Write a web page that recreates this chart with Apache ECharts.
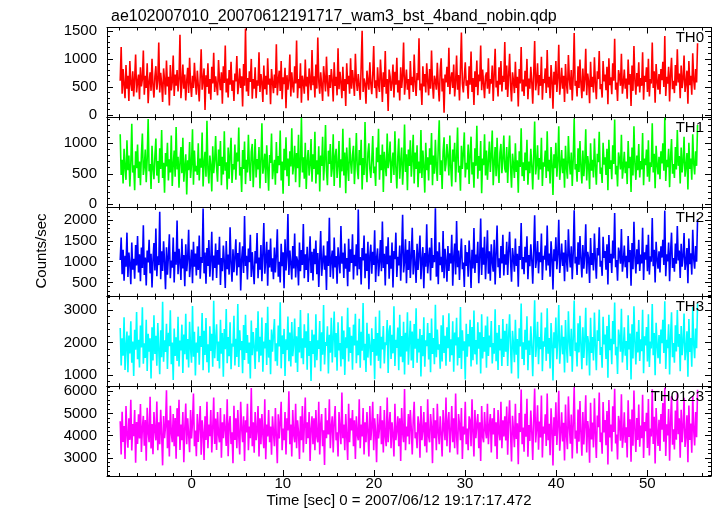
<!DOCTYPE html>
<html><head><meta charset="utf-8">
<script src="https://cdn.jsdelivr.net/npm/echarts@6/dist/echarts.min.js"></script>
<style>html,body{margin:0;padding:0;background:#fff}#c{width:717px;height:516px}</style>
</head><body><div id="c"></div>
<script>
const chartTitle = "ae102007010_20070612191717_wam3_bst_4band_nobin.qdp";
const xTitle = "Time [sec] 0 = 2007/06/12 19:17:17.472";
const yTitle = "Counts/sec";
const bandNames = ["TH0", "TH1", "TH2", "TH3", "TH0123"];
const t0 = -7.85, dt = 0.1058;
const xMin = -9.3, xMax = 57;

const TH0 = [
610,1210,380,820,540,300,890,470,700,250,960,560,430,780,330,650,1080,400,590,720,
280,850,510,640,1150,360,700,480,920,210,580,760,430,1000,530,310,690,870,450,610,
1290,400,750,560,230,830,620,360,970,510,680,170,890,440,590,1060,340,720,520,800,
420,640,1430,300,560,900,470,720,260,610,840,390,1020,550,320,700,480,930,600,360,
790,530,240,680,1170,450,620,830,90,710,500,920,380,640,270,860,560,1110,410,690,
520,350,980,610,440,760,200,870,570,1240,400,650,310,800,540,950,430,620,250,740,
600,1050,370,560,830,480,690,150,910,520,1540,420,660,340,780,590,1000,290,640,470,
850,300,620,520,1120,410,730,580,230,880,460,700,360,1010,540,650,190,820,590,390,
720,480,1260,350,610,790,430,960,280,670,550,840,120,710,450,620,1080,330,760,520,
400,870,560,1330,300,640,480,920,220,700,590,380,990,510,680,260,830,610,440,1160,
530,690,310,900,470,1380,600,380,760,540,250,870,650,420,1040,560,330,710,480,820,
610,240,940,520,680,350,1190,460,770,580,300,860,430,640,160,920,550,700,380,1010,
470,800,590,340,1090,620,430,730,520,270,880,1500,410,650,560,200,790,600,450,940,
560,370,710,1230,480,620,300,850,540,410,990,660,230,760,500,1140,380,640,70,810,
690,430,580,900,310,770,540,1020,400,620,260,850,480,700,1290,360,590,810,450,640,
280,960,530,680,410,1080,580,340,750,620,1370,440,560,180,870,510,730,400,920,600,
350,820,470,1150,560,290,700,610,450,930,530,240,790,1010,420,650,40,720,580,860,
500,1200,370,640,760,480,900,330,590,1060,450,710,260,830,1470,560,400,680,940,520,
620,290,870,540,1130,410,660,180,780,500,970,350,720,600,1240,440,810,560,300,690,
760,470,1010,380,640,560,880,250,720,1180,490,610,330,850,540,960,420,700,590,1300,
450,880,320,700,1090,530,240,760,610,390,950,480,680,150,820,560,1210,420,630,340,
790,510,1000,280,650,470,860,590,200,730,1320,440,600,920,350,710,520,1040,270,640,
570,830,390,1160,490,680,300,890,620,110,770,540,960,410,660,1250,360,580,840,470,
700,230,910,550,380,1070,640,450,800,260,690,1460,520,610,330,870,480,990,560,300,
830,420,640,1180,350,740,590,210,950,500,680,400,1030,570,280,780,640,1140,460,550,
310,960,600,720,440,860,190,1010,530,670,370,920,610,1360,450,580,250,800,690,520,
1090,380,560,810,470,650,290,990,540,730,160,880,430,1230,620,360,750,510,940,400,
660,520,1120,270,700,590,850,410,1000,330,640,560,1290,480,780,220,910,600,450,730,
370,820,620,950,500,1410,340,680,560,860,240,730,1020,460,610,390,890,520,1170,580,
740,300,880,480,640,1060,410,570,790,200,960,530,700,360,1100,620,450,820,580,1280];

const TH1 = [
1150,480,730,340,910,600,400,1050,560,800,290,670,1320,520,640,230,870,590,980,430,
700,310,820,1160,480,620,900,360,750,1400,540,660,250,960,590,410,790,1080,470,710,
350,920,580,1220,430,680,190,840,620,1010,390,740,520,1130,300,650,880,450,1270,570,
780,270,690,940,510,1090,370,610,820,160,720,560,1020,430,660,1230,320,880,540,630,
480,1000,390,750,600,1180,290,680,860,450,1370,580,340,800,640,210,950,510,710,1120,
600,370,900,630,1040,310,780,490,1200,550,690,240,930,420,820,1090,350,660,570,980,
400,850,700,1260,470,610,200,890,580,1030,330,730,520,1140,630,380,860,990,280,670,
1070,440,740,570,940,260,710,1330,500,640,830,350,970,600,220,810,680,1160,410,600,
730,320,1020,510,790,640,1210,390,700,170,910,560,1100,460,750,300,870,620,1250,490,
640,960,360,840,590,1140,280,670,1420,520,770,420,1010,250,710,890,470,650,1070,370,
820,580,1190,340,720,490,950,210,800,630,1110,390,690,1300,550,310,880,660,990,450,
590,1150,300,780,910,430,650,1040,270,740,540,1240,470,850,180,930,610,380,1090,700,
500,810,960,330,680,1170,570,410,890,640,1060,240,760,480,1350,620,360,840,1000,580,
430,720,1120,510,620,300,930,690,1240,400,810,560,980,200,860,640,460,1160,590,740,
1030,350,670,850,480,1200,600,260,780,1080,420,710,930,320,650,1310,530,820,230,900,
630,1050,450,740,1140,340,850,580,970,280,700,510,1220,430,880,620,190,1010,560,770,
390,920,650,1170,310,800,500,1060,610,380,950,1380,480,720,250,860,1100,540,660,990,
780,470,1130,600,290,900,700,1010,360,760,1260,520,630,220,960,580,840,1180,440,680,
570,980,330,820,1110,490,690,270,920,630,1290,420,790,550,1040,180,750,640,1150,470,
880,400,710,1030,530,810,1210,310,670,940,460,1090,600,350,850,990,510,740,1130,580,
520,940,350,780,1130,600,270,830,650,430,1000,530,720,190,870,610,1250,460,690,380,
850,560,1060,320,700,510,910,640,240,790,1360,490,650,970,400,760,570,1090,300,690,
620,880,430,1200,540,730,340,940,670,150,820,590,1010,450,710,1280,400,630,890,510,
750,270,960,600,420,1120,690,490,850,300,740,1410,570,660,370,920,530,1040,610,340,
880,460,690,1230,390,790,640,250,1000,550,730,440,1080,620,320,830,690,1190,500,600,
350,1010,650,770,480,910,230,1060,580,720,410,970,660,1390,490,630,290,850,740,570,
1140,420,610,860,510,700,330,1040,590,780,200,930,470,1280,670,400,800,560,990,440,
710,570,1170,310,750,640,900,450,1050,370,690,610,1330,520,830,260,960,650,490,780,
410,870,670,1000,550,1420,380,730,610,910,280,780,1070,500,660,430,940,570,1220,630,
790,340,930,520,690,1110,450,620,840,240,1010,580,750,400,1150,670,490,870,630,1300];

const TH2 = [
1040,1580,700,1290,540,1140,880,1700,630,1220,950,460,1460,810,1070,590,1400,910,1620,740,
1180,530,1340,850,1880,680,1100,430,1270,980,1530,720,1190,380,1050,1450,790,1800,650,1130,
920,2200,580,1250,780,1490,990,340,1350,690,1130,1660,600,1030,860,1580,500,1240,930,1990,
700,1310,1010,560,1550,840,1160,410,1420,770,1080,1770,630,960,1290,480,1480,880,1200,670,
1370,800,1630,590,1110,970,2280,720,1220,470,1330,900,1520,640,1040,1720,550,1150,850,1440,
610,1280,930,1600,440,1090,770,1390,1010,370,1500,820,1170,690,1830,950,520,1300,750,1120,
1540,670,1210,870,1470,310,1060,1370,730,2100,900,1140,570,1320,990,1650,630,1230,830,460,
1260,960,1690,600,1100,810,1400,530,1190,1930,710,1050,1480,420,1290,860,1560,760,1080,580,
1340,740,1160,1780,640,1000,500,1430,890,1230,360,1540,790,1120,2150,680,1270,970,570,1380,
840,1680,620,1130,1020,430,1460,770,1280,920,1910,600,1180,800,1360,510,1060,1610,730,1240,
550,1310,940,1510,700,1210,390,1100,1740,660,980,1390,810,1150,320,1490,900,2060,630,1040,
1270,590,1580,860,1140,470,1350,1010,720,1860,950,1220,610,1440,830,1090,410,1550,760,1300,
970,1660,570,1170,890,1420,670,2260,820,1110,450,1330,1030,1630,600,1200,780,1480,340,1140,
1410,710,1240,920,1760,510,1080,1320,650,980,1520,770,1970,850,1190,430,1370,940,1590,590,
1150,830,1460,380,1260,1060,1700,630,1120,910,1390,540,1230,2130,740,1010,1540,480,1290,800,
1500,610,1130,1820,690,1280,950,490,1430,800,1180,1630,580,1040,1350,360,1210,880,1900,720,
1080,1340,550,1570,850,1160,990,2290,640,1250,460,1470,920,1120,750,1740,600,1310,1020,520,
1380,780,1200,960,1650,420,1100,1440,690,1980,870,1270,560,1150,1560,820,980,390,1400,900,
1230,640,1510,1040,370,1290,840,1810,730,1170,970,1480,480,1090,2040,680,1340,930,1600,580,
1130,1760,710,1250,540,1420,1000,760,1530,450,1200,1870,870,1080,610,1380,960,1650,670,1180,
930,1480,680,1250,1720,1010,520,1330,1080,760,1560,900,1190,400,1380,1040,1930,820,1110,700,
1360,980,1610,580,1160,890,1420,1060,470,1260,2120,850,1070,1500,720,1230,990,1680,560,1140,
1050,1390,790,1870,910,1200,640,1490,1100,330,1300,1010,1590,820,1180,2010,730,1060,1440,900,
1220,530,1520,1030,760,1780,1150,860,1370,580,1210,2240,960,1120,680,1470,930,1620,1050,620,
1400,830,1160,1900,710,1240,1080,490,1570,920,1210,790,1680,1060,590,1330,1150,1830,880,1020,
660,1600,1090,1260,810,1420,450,1640,970,1190,730,1510,1080,2170,870,1040,540,1340,1200,950,
1790,760,1010,1390,870,1140,600,1620,990,1280,420,1450,820,1960,1110,720,1300,940,1530,780,
1170,960,1820,560,1230,1050,1410,770,1650,690,1130,1000,2050,890,1290,500,1480,1060,830,1250,
740,1370,1100,1530,920,2230,650,1180,1010,1460,530,1240,1700,850,1090,760,1440,950,1860,1030,
1270,610,1430,880,1120,1690,800,990,1330,480,1560,940,1200,690,1770,1070,830,1380,1000,2020];

const TH3 = [
2450,1300,2130,1600,2780,1160,1910,2340,1090,2220,1670,2650,1380,2030,980,2390,1780,2940,1490,2090,
1240,2520,1850,3080,1350,1980,1530,2700,1130,2270,1720,2130,900,2470,1450,2840,1650,2210,1290,2600,
1790,1030,2380,1550,3250,1410,2070,1710,2580,1190,2300,1890,2990,1340,2000,850,2430,1590,2160,1440,
2790,1270,2060,1760,2550,1070,2250,1640,2880,1480,2110,1240,2640,1830,1380,3120,1570,2330,990,2000,
1690,2490,1320,2200,1870,2910,1150,2360,1620,2750,1400,1950,1080,2500,1740,2270,1260,3280,1520,2080,
2560,1440,2030,1210,2700,1660,2290,950,2420,1800,3030,1370,2170,1580,2620,1180,1970,1880,2820,1300,
2120,1560,3180,1250,2380,1770,2050,1060,2540,1470,2850,1680,2230,1350,2000,900,2680,1610,2320,1860,
1190,2450,1730,2960,1400,2180,1600,2770,1110,2030,1820,2600,1310,3100,1540,2090,1030,2400,1720,2260,
2720,1430,1980,1290,2520,1880,3240,1210,2220,1650,2420,980,2100,1770,2800,1430,2310,1270,2630,1580,
1950,2740,1380,2190,1100,2480,1700,3000,1520,2130,1340,2560,1840,2350,1170,2900,1590,2050,820,2390,
1650,2250,1240,2870,1460,2070,1810,2660,1120,2320,1630,3150,1330,2020,1900,2500,1050,2240,1690,2760,
1390,2130,2950,1550,2290,1140,2620,1760,1990,1270,2810,1490,2370,1010,2160,1830,3070,1420,2470,1680,
2210,1170,2550,1910,2880,1370,2060,1610,2730,1230,2330,1750,3210,1460,1960,1100,2610,1540,2270,1870,
1300,2440,1710,2110,880,2790,1600,2290,1440,2980,1210,2180,1790,2510,1360,2010,1930,2690,1070,2350,
2530,1500,2240,1670,3110,1280,2090,1840,2460,1150,2850,1570,2200,1400,2640,1020,2300,1730,2930,1320,
2030,2670,1450,2340,1220,2570,1810,3050,1380,2120,1700,2420,960,2230,1580,2780,1260,2070,1890,2600,
1480,2290,1090,2740,1650,2140,1340,3160,1550,2400,1780,1950,1200,2530,1420,2840,1680,2210,1290,2470,
1830,2900,1410,2100,1610,2650,1110,2310,1910,2760,1300,2160,1530,3090,1190,2380,1750,2040,870,2580,
1570,2260,1880,2700,1270,2480,1460,2980,1640,2080,1330,2620,1810,2320,1050,2870,1510,2170,1720,2520,
1230,2800,1590,2220,1860,2660,1360,1990,1660,3020,1430,2300,1160,2540,1760,2120,1280,2720,1560,2360,
1720,2580,1280,2190,2870,1840,1050,2360,1950,1400,2700,1630,2110,900,2440,1880,3200,1500,2010,1310,
2390,1780,2810,1150,2060,1620,2500,1900,970,2230,3300,1560,1930,2640,1340,2170,1800,2920,1120,2040,
1880,2460,1440,3050,1660,2140,1210,2600,1990,840,2320,1830,2770,1490,2090,3150,1350,1920,2530,1640,
2180,1080,2690,1870,1380,2960,2050,1580,2420,1110,2130,3290,1740,2000,1270,2590,1700,2820,1910,1180,
2470,1530,2080,3070,1300,2200,1960,990,2760,1680,2170,1450,2920,1890,1150,2380,2050,3010,1620,1860,
1230,2790,1940,2250,1500,2510,920,2850,1770,2120,1340,2660,1950,3230,1610,1870,1040,2400,2140,1720,
3040,1390,1810,2470,1600,2050,1160,2840,1790,2280,870,2560,1510,3110,2020,1330,2330,1700,2690,1440,
2100,1740,3010,1060,2190,1910,2480,1420,2870,1250,2030,1820,3180,1610,2290,1000,2610,1930,1520,2230,
1350,2400,1980,2700,1680,3270,1190,2090,1830,2560,1020,2200,2930,1550,1990,1380,2530,1730,3000,1870,
2260,1120,2510,1610,2020,2890,1460,1800,2350,950,2720,1710,2140,1260,3090,1940,1520,2430,1830,3200];

const TH0123 = [
4650,3150,5080,3720,4430,2950,5340,4060,3460,4780,3810,5620,3330,4520,3980,5150,2780,4610,3620,4960,
3870,5430,3260,4350,4890,3540,4700,2870,5260,4150,3700,5750,3420,4520,3160,5060,4230,3790,5540,3340,
4600,3610,5170,4040,2660,4880,3880,4420,6050,3430,4690,3060,5350,4130,3700,4970,3520,4790,2960,5240,
3960,5620,3350,4500,3790,5070,2800,4330,5450,3610,4780,4050,3250,5160,3870,4590,5900,3520,4230,3070,
4970,3720,4410,5340,3140,4690,4150,2900,4870,3800,5530,3430,4500,3970,5160,3240,4330,5720,3620,4770,
3350,5060,4040,3700,5250,3000,4600,3880,4960,4240,3530,5640,3070,4510,4880,3620,4150,2760,5350,3800,
4780,3430,5150,3970,3150,5530,4320,3700,4870,2860,4690,4140,5440,3340,4410,3880,6150,3520,4600,3230,
5060,3790,4240,5340,3060,4780,3610,4970,4050,3430,5640,2940,4500,3960,5160,3700,4410,3140,4870,4150,
3520,5250,3960,2760,4960,3870,4600,5530,3340,4320,3790,5060,3150,4780,4230,6000,3610,4500,3060,5160,
4050,3700,5440,3430,4690,4150,2950,4870,3790,5340,3240,4410,5720,3620,4600,3880,5060,2860,4320,4870,
3610,4780,3340,5160,3960,3700,5530,3150,4500,4970,3520,4240,2680,5250,3880,4690,4050,5640,3430,4410,
4870,3240,4600,5340,3790,4150,3060,5060,4320,3610,5950,3880,4500,3340,4970,3960,2900,5440,3700,4780,
4240,5160,3520,4690,2950,4870,4050,3790,5640,3430,4500,3960,5250,3150,4600,3700,5060,4150,3060,5340,
3790,4410,5530,3340,4780,4150,2800,4970,3880,4320,5340,3610,4690,3240,5160,3960,3520,5720,3700,4500,
5060,3430,4600,4050,3060,5440,3790,4240,4870,3520,4780,2860,5250,4150,3700,6100,3340,4410,3960,4970,
3610,5160,4320,3150,4690,5530,3880,4150,3430,4870,4500,3000,5340,3790,4240,5060,3520,4600,3240,5640,
3960,3700,4970,4410,2760,5250,3880,4690,3340,5440,4150,3610,4870,4050,3060,5160,4320,3790,5720,3520,
4600,5060,3240,4240,5340,3700,4780,3430,5900,3960,3150,4970,4500,3790,5250,2950,4410,4050,5530,3610,
4320,3340,4870,4690,3520,5640,4150,3060,5160,3880,4500,4970,3430,4600,2860,5340,3960,3700,5060,4240,
3880,5440,3610,4410,4970,3240,4780,4050,5250,3520,4600,2950,5160,4150,3790,5530,3430,4690,3960,4870,
3780,5310,3140,4620,5590,4070,2830,4900,4250,3480,5440,3850,4560,2710,5020,4160,6080,3610,4370,3280,
4990,3950,5660,3050,4480,3760,5130,4180,2900,4740,6120,3690,4290,5370,3360,4640,3920,5810,3010,4410,
4090,4960,3530,5900,3790,4540,3120,5230,4310,2650,4830,3990,5510,3580,4450,6020,3320,4120,5050,3740,
4580,2880,5400,4020,3390,5770,4390,3640,4950,2970,4520,6180,3860,4230,3200,5180,3730,5560,4100,3090,
5060,3600,4470,5820,3240,4660,4240,2780,5480,3830,4590,3470,5690,4080,2990,4910,4380,5950,3710,4140,
3180,5520,4150,4700,3570,5110,2700,5610,3920,4500,3290,5320,4170,6110,3650,4050,2920,4890,4560,3770,
5870,3450,3980,5050,3680,4380,3020,5590,3940,4740,2820,5180,3550,6040,4280,3260,4790,3800,5400,3500,
4460,3880,5840,2990,4610,4200,5030,3440,5650,3110,4320,3960,6090,3620,4850,2740,5250,4190,3530,4720,
3310,4980,4270,5470,3730,6160,3080,4510,4010,5200,2870,4630,5780,3590,4290,3380,5130,3820,5930,4060,
4780,3000,5170,3700,4390,5710,3490,3990,4920,2800,5360,3800,4550,3230,5800,4240,3560,5060,3930,6070];

const bands = [TH0, TH1, TH2, TH3, TH0123];
const yMin = [-40, -45, 160, 660, 2180];
const yMax = [1560, 1430, 2320, 3410, 6225];
const ySplit = [3, 3, 4, 3, 4];
const yStep = [500, 500, 500, 1000, 1000];
const colors = ['#ff0000', '#00ff00', '#0000ff', '#00ffff', '#ff00ff'];

const FONT = 'Liberation Sans';
const plotLeft = 107, plotRight = 6, plotTop = 27.5, panelH = 89.7;

const grids = [], xAxes = [], yAxes = [], series = [], graphics = [];
const lineStyle = { color: '#000', width: 1 };

bands.forEach((arr, i) => {
  grids.push({ left: plotLeft, right: plotRight, top: plotTop + panelH * i, height: panelH, show: false });
  const isLast = i === bands.length - 1;
  ['bottom', 'top'].forEach((pos, j) => {
    xAxes.push({
      type: 'value', gridIndex: i, position: pos, min: xMin, max: xMax, splitNumber: 6,
      axisLine: { show: true, onZero: false, lineStyle },
      axisTick: { show: true, inside: true, length: 6, lineStyle },
      minorTick: { show: true, splitNumber: 5, length: 3, lineStyle },
      splitLine: { show: false }, minorSplitLine: { show: false },
      axisLabel: {
        show: isLast && j === 0, margin: 0, color: '#000', fontFamily: FONT, fontSize: 15,
        formatter: v => (Math.abs(v % 10) < 1e-9 ? String(v) : '')
      }
    });
  });
  ['left', 'right'].forEach((pos, j) => {
    yAxes.push({
      type: 'value', gridIndex: i, position: pos, min: yMin[i], max: yMax[i], splitNumber: ySplit[i],
      axisLine: { show: true, onZero: false, lineStyle },
      axisTick: { show: true, inside: true, length: 6, lineStyle },
      minorTick: { show: true, splitNumber: 5, length: 3, lineStyle },
      splitLine: { show: false }, minorSplitLine: { show: false },
      axisLabel: {
        show: j === 0, margin: 10, color: '#000', fontFamily: FONT, fontSize: 15,
        formatter: v => (Math.abs(v % yStep[i]) < 1e-9 ? String(v) : '')
      }
    });
  });
  series.push({
    type: 'line', xAxisIndex: 2 * i, yAxisIndex: 2 * i, showSymbol: false, symbol: 'none',
    data: arr.map((v, k) => [+(t0 + k * dt).toFixed(4), v]),
    lineStyle: { color: colors[i], width: 1.6 }, itemStyle: { color: colors[i] },
    animation: false, silent: true, clip: true, z: 1
  });
  graphics.push({
    type: 'text', right: 13, top: plotTop + panelH * i + 3, z: 10,
    style: { text: bandNames[i], fill: '#000', font: '15px "' + FONT + '"' }
  });
});

graphics.push({
  type: 'text', x: 42, y: 251, rotation: Math.PI / 2,
  style: { text: yTitle, fill: '#000', font: '15px "' + FONT + '"', textAlign: 'center', textVerticalAlign: 'middle' }
});
graphics.push({
  type: 'text', x: 399, y: 501,
  style: { text: xTitle, fill: '#000', font: '15px "' + FONT + '"', textAlign: 'center', textVerticalAlign: 'middle' }
});

const chart = echarts.init(document.getElementById('c'), null, { renderer: 'canvas' });
chart.setOption({
  backgroundColor: '#fff',
  animation: false,
  title: { text: chartTitle, left: 106, top: 4, textStyle: { color: '#000', fontFamily: FONT, fontSize: 16, fontWeight: 'normal' } },
  grid: grids, xAxis: xAxes, yAxis: yAxes, series, graphic: graphics
});
</script></body></html>
